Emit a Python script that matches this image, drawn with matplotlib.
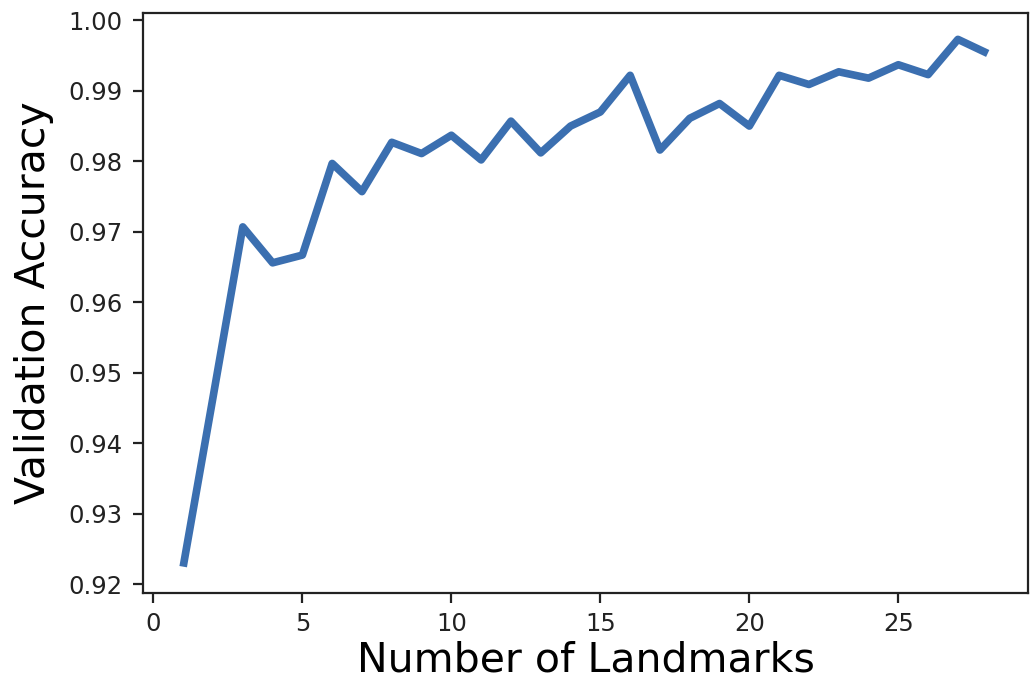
import matplotlib
matplotlib.use("Agg")
import matplotlib.pyplot as plt

landmarks = list(range(1, 29))
accuracy = [0.9225, 0.9465, 0.9707, 0.9656, 0.9667, 0.9797, 0.9757, 0.9827,
            0.9811, 0.9837, 0.9802, 0.9857, 0.9812, 0.9850, 0.9870, 0.9922,
            0.9816, 0.9861, 0.9882, 0.9850, 0.9922, 0.9909, 0.9927, 0.9918,
            0.9937, 0.9923, 0.9973, 0.9953]

fig = plt.figure(figsize=(10.30, 6.84), dpi=100)
ax = fig.add_axes([0.1388, 0.133, 0.8592, 0.848])
ax.plot(landmarks, accuracy, color="#3b6fb0", linewidth=5.5, solid_capstyle="butt")
ax.set_xlabel("Number of Landmarks", fontsize=29.5, labelpad=3)
ax.set_ylabel("Validation Accuracy", fontsize=29.5, labelpad=10)
ax.set_xticks([0, 5, 10, 15, 20, 25])
ax.set_yticks([0.92, 0.93, 0.94, 0.95, 0.96, 0.97, 0.98, 0.99, 1.00])
ax.tick_params(labelsize=17.5, length=7, width=1.6, colors="#222222")
ax.tick_params(axis="y", pad=8)
ax.tick_params(axis="x", pad=7)
for s in ax.spines.values():
    s.set_linewidth(1.6)
    s.set_color("#222222")
fig.savefig("out.png", dpi=100)
